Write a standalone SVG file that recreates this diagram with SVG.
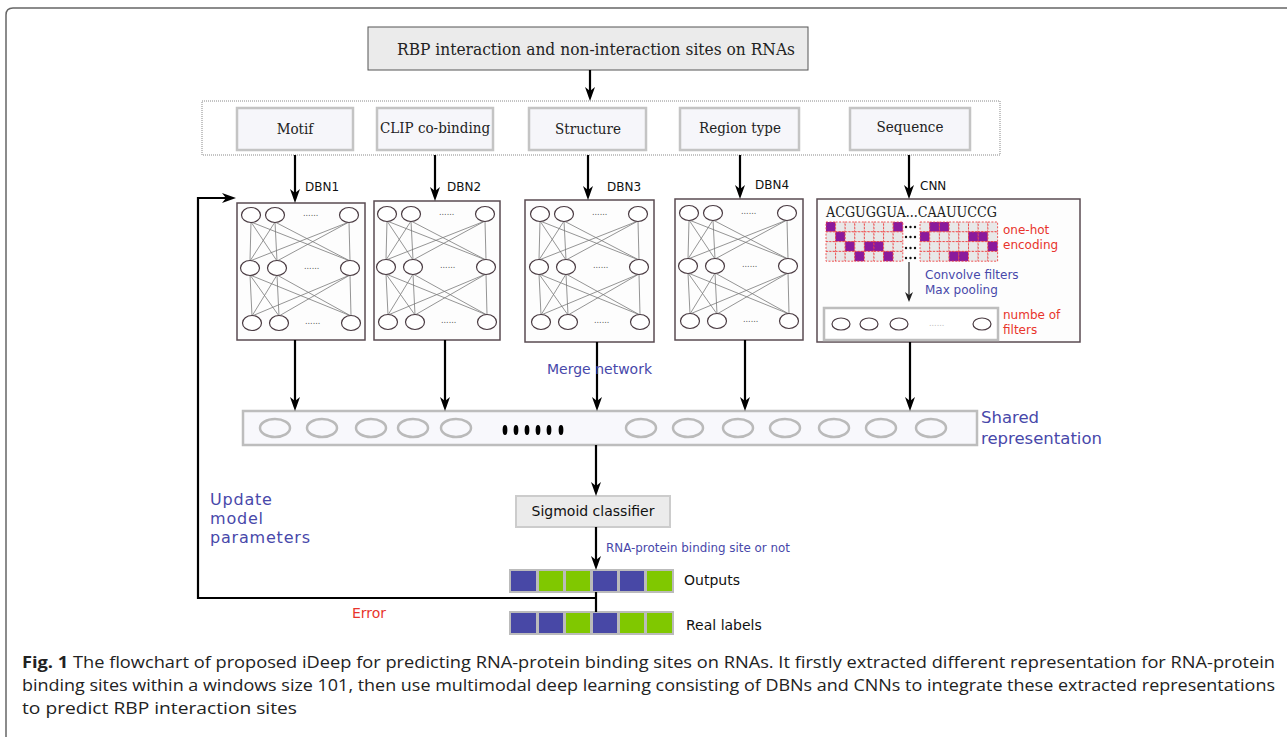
<svg xmlns="http://www.w3.org/2000/svg" xmlns:xlink="http://www.w3.org/1999/xlink" width="1287" height="737" viewBox="0 0 1287 737">
<style>
.serif{font-family:"DejaVu Serif Condensed","DejaVu Serif","Liberation Serif",serif;font-stretch:condensed;fill:#222}
.sans{font-family:"DejaVu Sans","Liberation Sans",sans-serif;fill:#111}
.blue{font-family:"DejaVu Sans","Liberation Sans",sans-serif;fill:#4848aa}
.red{font-family:"DejaVu Sans","Liberation Sans",sans-serif;fill:#e8342c}
.feat{fill:#f6f6fa;stroke:#c4c4c4;stroke-width:2.5}
.dbn{fill:#fdfdfd;stroke:#5a4b52;stroke-width:1.5}
.node{fill:#fff;stroke:#4a3b42;stroke-width:1.2}
.edge{fill:none;stroke:#7a7a7a;stroke-width:0.8}
.arr{fill:none;stroke:#000;stroke-width:2.2;marker-end:url(#ah)}
.sr{fill:none;stroke:#bababa;stroke-width:2.5}
.cell{fill:#e8e8e8;stroke:#ee4444;stroke-width:0.9;stroke-dasharray:2 1.5}
.pur{fill:#8a1a9c;stroke:#ee4444;stroke-width:0.9;stroke-dasharray:2 1.5}
.bl{fill:#4848a6;stroke:#bbbbbb;stroke-width:2}
.gr{fill:#80c800;stroke:#bbbbbb;stroke-width:2}
.cap{font-family:"Open Sans","Noto Sans","Liberation Sans",sans-serif;font-size:16.5px;fill:#222}
</style>
<defs>
<marker id="ah" markerUnits="userSpaceOnUse" markerWidth="14" markerHeight="10" refX="10" refY="5" orient="auto">
<path d="M0,0 L14,5 L0,10 L4,5 z" fill="#000"/>
</marker>
<marker id="ahs" markerUnits="userSpaceOnUse" markerWidth="10" markerHeight="8" refX="8" refY="4" orient="auto">
<path d="M0,0 L10,4 L0,8 L3,4 z" fill="#222"/>
</marker>
<g id="net">
<path class="edge" d="M14,19 L13,58 M14,19 L40,58 M14,19 L113,58 M38,19 L13,58 M38,19 L40,58 M38,19 L113,58 M112,19 L13,58 M112,19 L40,58 M112,19 L113,58 M13,72 L15,113 M13,72 L42,113 M13,72 L114,113 M40,72 L15,113 M40,72 L42,113 M40,72 L114,113 M113,72 L15,113 M113,72 L42,113 M113,72 L114,113"/>
<ellipse class="node" cx="14" cy="12" rx="9.5" ry="7.5"/>
<ellipse class="node" cx="38" cy="12" rx="9.5" ry="7.5"/>
<ellipse class="node" cx="112" cy="12" rx="9.5" ry="7.5"/>
<ellipse class="node" cx="13" cy="65" rx="9.5" ry="7.5"/>
<ellipse class="node" cx="40" cy="65" rx="9.5" ry="7.5"/>
<ellipse class="node" cx="113" cy="65" rx="9.5" ry="7.5"/>
<ellipse class="node" cx="15" cy="120" rx="9.5" ry="7.5"/>
<ellipse class="node" cx="42" cy="120" rx="9.5" ry="7.5"/>
<ellipse class="node" cx="114" cy="120" rx="9.5" ry="7.5"/>
<text x="66" y="13" font-family="DejaVu Sans,sans-serif" font-size="8" fill="#555">......</text>
<text x="67" y="66" font-family="DejaVu Sans,sans-serif" font-size="8" fill="#555">......</text>
<text x="68" y="121" font-family="DejaVu Sans,sans-serif" font-size="8" fill="#555">......</text>
</g>
</defs>
<rect width="1287" height="737" fill="#fff"/>
<path d="M6,737 L6,15 Q6,8 13,8 L1287,8" fill="none" stroke="#666" stroke-width="1.5"/>

<g id="input">
<rect x="368" y="27" width="440" height="43" fill="#ebebeb" stroke="#555" stroke-width="1"/>
<text class="serif" x="397" y="55" font-size="17" textLength="398" lengthAdjust="spacingAndGlyphs">RBP interaction and non-interaction sites on RNAs</text>
</g>

<g id="features">
<rect x="202" y="101" width="798" height="54" fill="none" stroke="#888" stroke-width="1" stroke-dasharray="1 1"/>
</g>
<g id="motif"><rect class="feat" x="237" y="108" width="116" height="42"/><text class="serif" x="295" y="134" font-size="15" text-anchor="middle">Motif</text></g>
<g id="clip"><rect class="feat" x="377" y="108" width="116" height="42"/><text class="serif" x="435" y="133" font-size="15" text-anchor="middle">CLIP co-binding</text></g>
<g id="structure"><rect class="feat" x="529" y="108" width="117" height="42"/><text class="serif" x="588" y="134" font-size="15" text-anchor="middle">Structure</text></g>
<g id="region"><rect class="feat" x="680" y="108" width="119" height="42"/><text class="serif" x="740" y="133" font-size="15" text-anchor="middle">Region type</text></g>
<g id="sequence"><rect class="feat" x="850" y="108" width="120" height="42"/><text class="serif" x="910" y="132" font-size="15" text-anchor="middle">Sequence</text></g>

<g id="dbn1"><rect class="dbn" x="237" y="203" width="128" height="137"/><use xlink:href="#net" x="237" y="203"/></g>
<g id="dbn2"><rect class="dbn" x="374" y="201" width="126" height="139"/><use xlink:href="#net" x="373" y="202"/></g>
<g id="dbn3"><rect class="dbn" x="525" y="200" width="129" height="142"/><use xlink:href="#net" x="526" y="202"/></g>
<g id="dbn4"><rect class="dbn" x="675" y="199" width="128" height="141"/><use xlink:href="#net" x="675" y="201"/></g>

<g id="cnn">
<rect class="dbn" x="817" y="199" width="263" height="143"/>
<text class="serif" x="826" y="217" font-size="15" fill="#111" textLength="171" lengthAdjust="spacingAndGlyphs">ACGUGGUA...CAAUUCCG</text>
<g id="gridL">
<rect class="pur" x="826" y="222" width="9.6" height="9.8"/><rect class="cell" x="835.6" y="222" width="9.6" height="9.8"/><rect class="cell" x="845.2" y="222" width="9.6" height="9.8"/><rect class="cell" x="854.8" y="222" width="9.6" height="9.8"/><rect class="cell" x="864.4" y="222" width="9.6" height="9.8"/><rect class="cell" x="874" y="222" width="9.6" height="9.8"/><rect class="cell" x="883.6" y="222" width="9.6" height="9.8"/><rect class="pur" x="893.2" y="222" width="9.6" height="9.8"/>
<rect class="cell" x="826" y="231.8" width="9.6" height="9.8"/><rect class="pur" x="835.6" y="231.8" width="9.6" height="9.8"/><rect class="cell" x="845.2" y="231.8" width="9.6" height="9.8"/><rect class="cell" x="854.8" y="231.8" width="9.6" height="9.8"/><rect class="cell" x="864.4" y="231.8" width="9.6" height="9.8"/><rect class="cell" x="874" y="231.8" width="9.6" height="9.8"/><rect class="cell" x="883.6" y="231.8" width="9.6" height="9.8"/><rect class="cell" x="893.2" y="231.8" width="9.6" height="9.8"/>
<rect class="cell" x="826" y="241.6" width="9.6" height="9.8"/><rect class="cell" x="835.6" y="241.6" width="9.6" height="9.8"/><rect class="pur" x="845.2" y="241.6" width="9.6" height="9.8"/><rect class="cell" x="854.8" y="241.6" width="9.6" height="9.8"/><rect class="pur" x="864.4" y="241.6" width="9.6" height="9.8"/><rect class="pur" x="874" y="241.6" width="9.6" height="9.8"/><rect class="cell" x="883.6" y="241.6" width="9.6" height="9.8"/><rect class="cell" x="893.2" y="241.6" width="9.6" height="9.8"/>
<rect class="cell" x="826" y="251.4" width="9.6" height="9.8"/><rect class="cell" x="835.6" y="251.4" width="9.6" height="9.8"/><rect class="cell" x="845.2" y="251.4" width="9.6" height="9.8"/><rect class="pur" x="854.8" y="251.4" width="9.6" height="9.8"/><rect class="cell" x="864.4" y="251.4" width="9.6" height="9.8"/><rect class="cell" x="874" y="251.4" width="9.6" height="9.8"/><rect class="pur" x="883.6" y="251.4" width="9.6" height="9.8"/><rect class="cell" x="893.2" y="251.4" width="9.6" height="9.8"/>
</g>
<g id="gridR">
<rect class="cell" x="920" y="222" width="9.7" height="9.8"/><rect class="pur" x="929.7" y="222" width="9.7" height="9.8"/><rect class="pur" x="939.4" y="222" width="9.7" height="9.8"/><rect class="cell" x="949.1" y="222" width="9.7" height="9.8"/><rect class="cell" x="958.8" y="222" width="9.7" height="9.8"/><rect class="cell" x="968.5" y="222" width="9.7" height="9.8"/><rect class="cell" x="978.2" y="222" width="9.7" height="9.8"/><rect class="cell" x="987.9" y="222" width="9.7" height="9.8"/>
<rect class="pur" x="920" y="231.8" width="9.7" height="9.8"/><rect class="cell" x="929.7" y="231.8" width="9.7" height="9.8"/><rect class="cell" x="939.4" y="231.8" width="9.7" height="9.8"/><rect class="cell" x="949.1" y="231.8" width="9.7" height="9.8"/><rect class="cell" x="958.8" y="231.8" width="9.7" height="9.8"/><rect class="pur" x="968.5" y="231.8" width="9.7" height="9.8"/><rect class="pur" x="978.2" y="231.8" width="9.7" height="9.8"/><rect class="cell" x="987.9" y="231.8" width="9.7" height="9.8"/>
<rect class="cell" x="920" y="241.6" width="9.7" height="9.8"/><rect class="cell" x="929.7" y="241.6" width="9.7" height="9.8"/><rect class="cell" x="939.4" y="241.6" width="9.7" height="9.8"/><rect class="cell" x="949.1" y="241.6" width="9.7" height="9.8"/><rect class="cell" x="958.8" y="241.6" width="9.7" height="9.8"/><rect class="cell" x="968.5" y="241.6" width="9.7" height="9.8"/><rect class="cell" x="978.2" y="241.6" width="9.7" height="9.8"/><rect class="pur" x="987.9" y="241.6" width="9.7" height="9.8"/>
<rect class="cell" x="920" y="251.4" width="9.7" height="9.8"/><rect class="cell" x="929.7" y="251.4" width="9.7" height="9.8"/><rect class="cell" x="939.4" y="251.4" width="9.7" height="9.8"/><rect class="pur" x="949.1" y="251.4" width="9.7" height="9.8"/><rect class="pur" x="958.8" y="251.4" width="9.7" height="9.8"/><rect class="cell" x="968.5" y="251.4" width="9.7" height="9.8"/><rect class="cell" x="978.2" y="251.4" width="9.7" height="9.8"/><rect class="cell" x="987.9" y="251.4" width="9.7" height="9.8"/>
</g>
<g fill="#111">
<circle cx="906" cy="227" r="1.2"/><circle cx="910.5" cy="227" r="1.2"/><circle cx="915" cy="227" r="1.2"/>
<circle cx="906" cy="237" r="1.2"/><circle cx="910.5" cy="237" r="1.2"/><circle cx="915" cy="237" r="1.2"/>
<circle cx="906" cy="248" r="1.2"/><circle cx="910.5" cy="248" r="1.2"/><circle cx="915" cy="248" r="1.2"/>
<circle cx="906" cy="258" r="1.2"/><circle cx="910.5" cy="258" r="1.2"/><circle cx="915" cy="258" r="1.2"/>
</g>
<path d="M909,262 L909,300" fill="none" stroke="#222" stroke-width="1.2" marker-end="url(#ahs)"/>
<text class="red" x="1003" y="234" font-size="12">one-hot</text>
<text class="red" x="1003" y="249" font-size="12">encoding</text>
<text class="blue" x="925" y="279" font-size="12">Convolve filters</text>
<text class="blue" x="925" y="294" font-size="12">Max pooling</text>
<rect x="824" y="308" width="174" height="32" fill="#fff" stroke="#bdbdbd" stroke-width="2.5"/>
<ellipse class="node" cx="841" cy="324" rx="9" ry="6"/>
<ellipse class="node" cx="869" cy="324" rx="9" ry="6"/>
<ellipse class="node" cx="899" cy="324" rx="9" ry="6"/>
<ellipse class="node" cx="982" cy="324" rx="9" ry="6"/>
<text x="929" y="326" font-family="DejaVu Sans,sans-serif" font-size="8" fill="#bbb">......</text>
<text class="red" x="1003" y="319" font-size="12">numbe of</text>
<text class="red" x="1003" y="334" font-size="12">filters</text>
</g>

<g id="shared">
<rect x="243" y="411" width="734" height="34" fill="#f8f8fc" stroke="#bdbdbd" stroke-width="2.5"/>
<ellipse class="sr" cx="275" cy="428" rx="15" ry="9"/>
<ellipse class="sr" cx="322" cy="428" rx="15" ry="9"/>
<ellipse class="sr" cx="371" cy="428" rx="15" ry="9"/>
<ellipse class="sr" cx="413" cy="428" rx="15" ry="9"/>
<ellipse class="sr" cx="456" cy="428" rx="15" ry="9"/>
<g fill="#000">
<ellipse cx="505" cy="430" rx="2.4" ry="5"/><ellipse cx="516" cy="430" rx="2.4" ry="5"/><ellipse cx="527" cy="430" rx="2.4" ry="5"/><ellipse cx="538" cy="430" rx="2.4" ry="5"/><ellipse cx="549" cy="430" rx="2.4" ry="5"/><ellipse cx="561" cy="430" rx="2.4" ry="5"/>
</g>
<ellipse class="sr" cx="641" cy="428" rx="15" ry="9"/>
<ellipse class="sr" cx="688" cy="428" rx="15" ry="9"/>
<ellipse class="sr" cx="738" cy="428" rx="15" ry="9"/>
<ellipse class="sr" cx="785" cy="428" rx="15" ry="9"/>
<ellipse class="sr" cx="834" cy="428" rx="15" ry="9"/>
<ellipse class="sr" cx="881" cy="428" rx="15" ry="9"/>
<ellipse class="sr" cx="931" cy="428" rx="15" ry="9"/>
<text class="blue" x="981" y="423" font-size="16.5">Shared</text>
<text class="blue" x="981" y="444" font-size="16.5">representation</text>
</g>

<g id="sigmoid">
<rect x="516" y="496" width="154" height="31" fill="#ebebeb" stroke="#cccccc" stroke-width="2"/>
<text class="sans" x="593" y="516" font-size="14" text-anchor="middle">Sigmoid classifier</text>
</g>

<g id="outputs">
<rect class="bl" x="510" y="570" width="27" height="22"/><rect class="gr" x="538" y="570" width="26" height="22"/><rect class="gr" x="565" y="570" width="26" height="22"/><rect class="bl" x="592" y="570" width="26" height="22"/><rect class="bl" x="619" y="570" width="26" height="22"/><rect class="gr" x="646" y="570" width="27" height="22"/>
<text class="sans" x="684" y="585" font-size="14">Outputs</text>
</g>
<g id="labels">
<rect class="bl" x="510" y="612" width="27" height="22"/><rect class="bl" x="538" y="612" width="26" height="22"/><rect class="gr" x="565" y="612" width="26" height="22"/><rect class="bl" x="592" y="612" width="26" height="22"/><rect class="gr" x="619" y="612" width="26" height="22"/><rect class="gr" x="646" y="612" width="27" height="22"/>
<text class="sans" x="686" y="630" font-size="14">Real labels</text>
</g>

<g id="connectors">
<path class="arr" d="M590,70 L590,97"/>
<path class="arr" d="M295,155 L295,199"/>
<path class="arr" d="M435,155 L435,197"/>
<path class="arr" d="M588,155 L588,196"/>
<path class="arr" d="M740,155 L740,195"/>
<path class="arr" d="M909,155 L909,195"/>
<path class="arr" d="M295,340 L295,407"/>
<path class="arr" d="M445,340 L445,407"/>
<path class="arr" d="M597,342 L597,407"/>
<path class="arr" d="M745,340 L745,407"/>
<path class="arr" d="M910,342 L910,407"/>
<path class="arr" d="M596,445 L596,492"/>
<path class="arr" d="M596,527 L596,566"/>
<path d="M596,592 L596,612" fill="none" stroke="#000" stroke-width="2.2"/>
<path class="arr" d="M596,598 L198,598 L198,198 L232,198"/>
</g>

<g id="conn-labels">
<text class="sans" x="305" y="191" font-size="12">DBN1</text>
<text class="sans" x="447" y="191" font-size="12">DBN2</text>
<text class="sans" x="607" y="191" font-size="12">DBN3</text>
<text class="sans" x="755" y="189" font-size="12">DBN4</text>
<text class="sans" x="920" y="190" font-size="12">CNN</text>
<text class="blue" x="547" y="374" font-size="14">Merge network</text>
<text class="blue" x="606" y="552" font-size="12" font-family="DejaVu Sans Condensed,DejaVu Sans,sans-serif" textLength="184" lengthAdjust="spacingAndGlyphs">RNA-protein binding site or not</text>
<text class="red" x="352" y="618" font-size="14">Error</text>
<text class="blue" x="210" y="505" font-size="16" letter-spacing="0.8">Update</text>
<text class="blue" x="210" y="524" font-size="16" letter-spacing="0.8">model</text>
<text class="blue" x="210" y="543" font-size="16" letter-spacing="0.8">parameters</text>
</g>

<g id="caption">
<text class="cap" x="22" y="668" textLength="1253" lengthAdjust="spacingAndGlyphs"><tspan font-weight="bold">Fig. 1</tspan> The flowchart of proposed iDeep for predicting RNA-protein binding sites on RNAs. It firstly extracted different representation for RNA-protein</text>
<text class="cap" x="22" y="691" textLength="1253" lengthAdjust="spacingAndGlyphs">binding sites within a windows size 101, then use multimodal deep learning consisting of DBNs and CNNs to integrate these extracted representations</text>
<text class="cap" x="22" y="714" textLength="275" lengthAdjust="spacingAndGlyphs">to predict RBP interaction sites</text>
</g>
</svg>
